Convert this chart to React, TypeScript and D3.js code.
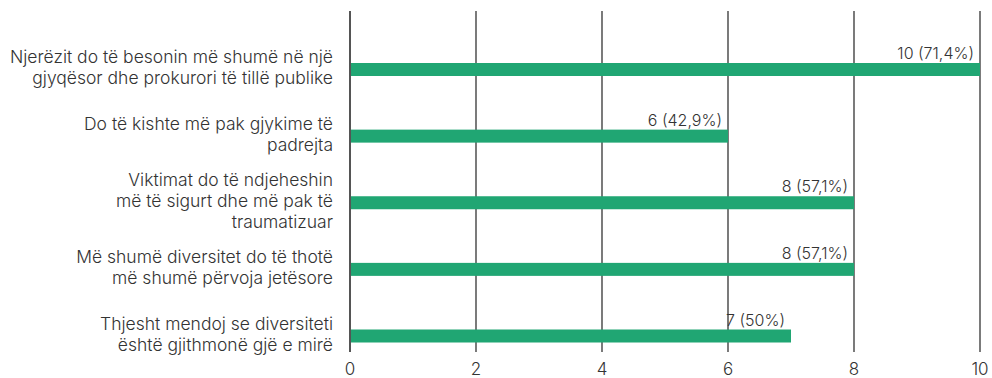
import React from "react";
import * as d3 from "d3";

const categories: string[][] = [
  ["Njerëzit do të besonin më shumë në një", "gjyqësor dhe prokurori të tillë publike"],
  ["Do të kishte më pak gjykime të", "padrejta"],
  ["Viktimat do të ndjeheshin", "më të sigurt dhe më pak të", "traumatizuar"],
  ["Më shumë diversitet do të thotë", "më shumë përvoja jetësore"],
  ["Thjesht mendoj se diversiteti", "është gjithmonë gjë e mirë"],
];
const values = [10, 6, 8, 8, 7];
const valueLabels = ["10 (71,4%)", "6 (42,9%)", "8 (57,1%)", "8 (57,1%)", "7 (50%)"];
const ticks = [0, 2, 4, 6, 8, 10];

const W = 992;
const H = 378;
const FONT = "Inter, 'Noto Sans', sans-serif";

export default function App() {
  const x = d3.scaleLinear().domain([0, 10]).range([350, 980]);
  const y = d3.scalePoint<number>().domain(d3.range(values.length)).range([69.5, 336]);
  const barH = 13;
  const lineH = 21;
  return (
    <svg width={W} height={H} style={{ position: "absolute", left: 0, top: 0 }} fontFamily={FONT}>
      {ticks.map((t) => (
        <g key={t}>
          <line x1={x(t)} x2={x(t)} y1={11} y2={352} stroke={t === 0 ? "#555" : "#222"} strokeWidth={t === 0 ? 2 : 1.2} />
          <text x={x(t)} y={375} textAnchor="middle" fontSize={17} fontWeight={300} fill="#333">{t}</text>
        </g>
      ))}
      {values.map((v, i) => {
        const cy = y(i) as number;
        return (
          <g key={i}>
            <rect x={x(0) + 1} y={cy - barH / 2} width={x(v) - x(0) - 1} height={barH} fill="#20a673" />
            <text x={x(v) - 6} y={cy - barH / 2 - 4} textAnchor="end" fontSize={16} fontWeight={300} fill="#333">{valueLabels[i]}</text>
            {categories[i].map((ln, j) => (
              <text key={j} x={333} y={cy - 2 + (j - (categories[i].length - 1) / 2) * lineH} dy="0.35em" textAnchor="end" fontSize={17.5} fontWeight={300} fill="#333">{ln}</text>
            ))}
          </g>
        );
      })}
    </svg>
  );
}
